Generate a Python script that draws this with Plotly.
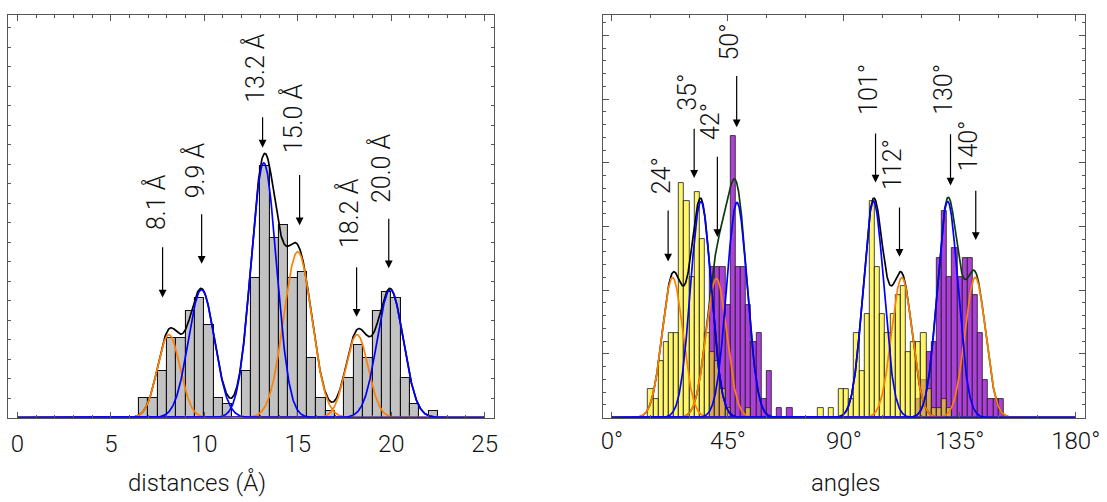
import numpy as np
import plotly.graph_objects as go

# ---------------- left panel : distances ----------------
dist_bin_start = 6.5
dist_bin_width = 0.5
dist_counts = [3, 3, 7, 12, 12, 16, 18, 14, 3, 2, 0, 7, 21, 38, 27, 29,
               21, 22, 9, 3, 1, 0, 6, 11, 9, 16, 19, 18, 6, 2, 0, 1]

dist_peak_center = [8.1, 9.85, 13.18, 15.0, 18.17, 19.95]
dist_peak_height = [12.5, 19.3, 38.4, 25.0, 12.5, 19.3]
dist_peak_sigma = [0.6, 0.7, 0.68, 0.75, 0.6, 0.7]
dist_peak_kind = ["orange", "blue", "blue", "orange", "orange", "blue"]

dist_labels = ["8.1 Å", "9.9 Å", "13.2 Å", "15.0 Å", "18.2 Å", "20.0 Å"]
dist_arrow_x = [7.77, 9.86, 13.12, 15.1, 18.15, 19.87]
dist_arrow_tip = [18.1, 23.2, 40.7, 29.0, 15.2, 22.5]
dist_arrow_tail = [25.9, 30.9, 45.5, 36.8, 22.9, 30.2]
dist_label_base = [27.9, 32.7, 47.1, 39.5, 25.2, 32.0]

dist_ticks = [0, 5, 10, 15, 20, 25]

# ---------------- right panel : angles ----------------
ang_bin_width = 2
ang_bin_start = [14, 16, 18, 20, 22, 24, 26, 28, 30, 32, 34, 36, 38, 40, 42, 44,
                 46, 48, 50, 52, 54, 56, 58, 60, 62, 64, 66, 68, 70, 72, 74, 76,
                 78, 80, 82, 84, 86, 88, 90, 92, 94, 96, 98, 100, 102, 104, 106,
                 108, 110, 112, 114, 116, 118, 120, 122, 124, 126, 128, 130, 132,
                 134, 136, 138, 140, 142, 144, 146, 148, 150]
ang_yellow = [3, 2, 6, 8, 9, 9, 25, 23, 15, 24, 19, 9, 7, 6, 3, 1,
              0, 0, 0, 1, 0, 0, 0, 0, 0, 0, 0, 0, 0, 0, 0, 0,
              0, 1, 0, 1, 0, 3, 3, 2, 9, 5, 11, 23, 16, 11, 9,
              11, 13, 14, 7, 8, 8, 9, 3, 1, 1, 2, 1, 0,
              0, 0, 0, 0, 0, 0, 0, 0, 0]
ang_purple = [0, 0, 0, 0, 0, 0, 0, 0, 0, 0, 0, 0, 16, 16, 16, 12,
              30, 16, 16, 12, 8, 9, 2, 5, 0, 1, 0, 1, 0, 0, 0, 0,
              0, 0, 0, 0, 0, 0, 0, 0, 0, 0, 0, 0, 0, 0, 0,
              0, 0, 0, 0, 0, 2, 4, 7, 8, 17, 22, 15, 18,
              15, 17, 17, 13, 9, 4, 2, 2, 2]

ang_peak_center = [23.5, 34.5, 40.5, 48.5, 101.5, 112.5, 130.3, 141.0]
ang_peak_height = [14.9, 23.0, 14.8, 22.9, 23.0, 14.9, 23.0, 14.9]
ang_peak_sigma = [4.0, 4.0, 4.0, 4.0, 4.0, 4.0, 4.0, 4.0]
ang_peak_kind = ["orange", "blue", "orange", "blue", "blue", "orange", "blue", "orange"]
ang_peak_group = ["yellow", "yellow", "purple", "purple", "yellow", "yellow", "purple", "purple"]

ang_labels = ["24°", "35°", "42°", "50°", "101°", "112°", "130°", "140°"]
ang_arrow_x = [21.8, 31.9, 40.9, 48.4, 102.3, 111.6, 131.4, 141.2]
ang_arrow_tip = [16.6, 25.5, 19.2, 30.9, 25.0, 17.1, 24.7, 18.9]
ang_arrow_tail = [22.2, 30.9, 27.9, 36.5, 30.4, 22.5, 30.3, 24.3]
ang_label_base = [23.5, 32.4, 29.3, 37.8, 32.0, 24.0, 32.0, 26.0]

ang_ticks = [0, 45, 90, 135, 180]
ang_tick_text = ["0°", "45°", "90°", "135°", "180°"]

axis_titles = ["distances (Å)", "angles"]

# ---------------- styling ----------------
FONT = "Roboto"
COL = {"orange": "#FF8000", "blue": "#0000FF"}
SUMCOL = {"yellow": "#000000", "purple": "#0E3A0E"}
W, H = 1107, 502
L_DOM = [8 / W, 494 / W]
R_DOM = [602.7 / W, 1085 / W]
Y_DOM = [(H - 417.5) / H, (H - 15) / H]
L_YMAX = 402.5 / 6.63
R_YMAX = 402.7 / 9.4
TITLE_X = [197 / W, 845 / W]
TITLE_Y = (H - 499) / H


def gauss(x, c, a, s):
    return a * np.exp(-(x - c) ** 2 / (2 * s ** 2))


fig = go.Figure()

# left histogram
dx = [dist_bin_start + dist_bin_width * (i + 0.5) for i in range(len(dist_counts))]
lx = [x for x, c in zip(dx, dist_counts) if c > 0]
ly = [c for c in dist_counts if c > 0]
fig.add_trace(go.Bar(x=lx, y=ly, width=dist_bin_width, xaxis="x", yaxis="y",
                     marker=dict(color="#C2C2C2", line=dict(color="#111111", width=1.1)),
                     showlegend=False))

xs = np.linspace(0, 25, 1201)
total = sum(gauss(xs, c, a, s) for c, a, s in zip(dist_peak_center, dist_peak_height, dist_peak_sigma))
fig.add_trace(go.Scatter(x=xs, y=total, mode="lines", line=dict(color="black", width=1.7),
                         xaxis="x", yaxis="y", showlegend=False))
for kind in ["orange", "blue"]:
    for c, a, s, k in zip(dist_peak_center, dist_peak_height, dist_peak_sigma, dist_peak_kind):
        if k == kind:
            fig.add_trace(go.Scatter(x=xs, y=gauss(xs, c, a, s), mode="lines",
                                     line=dict(color=COL[k], width=1.7),
                                     xaxis="x", yaxis="y", showlegend=False))

# right histograms
ac = [b + ang_bin_width / 2 for b in ang_bin_start]
px_ = [x for x, c in zip(ac, ang_purple) if c > 0]
py_ = [c for c in ang_purple if c > 0]
yx_ = [x for x, c in zip(ac, ang_yellow) if c > 0]
yy_ = [c for c in ang_yellow if c > 0]
fig.add_trace(go.Bar(x=px_, y=py_, width=ang_bin_width, xaxis="x2", yaxis="y2",
                     marker=dict(color="rgb(172,64,216)", line=dict(color="#1a1a1a", width=0.8)),
                     showlegend=False))
fig.add_trace(go.Bar(x=yx_, y=yy_, width=ang_bin_width, xaxis="x2", yaxis="y2",
                     marker=dict(color="rgba(255,240,0,0.58)", line=dict(color="#1a1a1a", width=0.8)),
                     showlegend=False))

xa = np.linspace(0, 180, 1801)
for grp in ["yellow", "purple"]:
    tot = sum(gauss(xa, c, a, s) for c, a, s, g in
              zip(ang_peak_center, ang_peak_height, ang_peak_sigma, ang_peak_group) if g == grp)
    fig.add_trace(go.Scatter(x=xa, y=tot, mode="lines", line=dict(color=SUMCOL[grp], width=1.7),
                             xaxis="x2", yaxis="y2", showlegend=False))
for kind in ["orange", "blue"]:
    for c, a, s, k in zip(ang_peak_center, ang_peak_height, ang_peak_sigma, ang_peak_kind):
        if k == kind:
            fig.add_trace(go.Scatter(x=xa, y=gauss(xa, c, a, s), mode="lines",
                                     line=dict(color=COL[k], width=1.7),
                                     xaxis="x2", yaxis="y2", showlegend=False))

# annotations
ann = []
for lab, x, tip, tail, base in zip(dist_labels, dist_arrow_x, dist_arrow_tip, dist_arrow_tail, dist_label_base):
    ann.append(dict(x=x, y=tip, ax=x, ay=tail, xref="x", yref="y", axref="x", ayref="y",
                    showarrow=True, arrowhead=2, arrowsize=1.3, arrowwidth=1.2, arrowcolor="black",
                    text=""))
    ann.append(dict(x=x, y=base, xref="x", yref="y", text=lab, showarrow=False, textangle=-90,
                    xanchor="center", yanchor="bottom", xshift=-7,
                    font=dict(family=FONT, size=25, color="#111111", weight=300)))
for lab, x, tip, tail, base in zip(ang_labels, ang_arrow_x, ang_arrow_tip, ang_arrow_tail, ang_label_base):
    ann.append(dict(x=x, y=tip, ax=x, ay=tail, xref="x2", yref="y2", axref="x2", ayref="y2",
                    showarrow=True, arrowhead=2, arrowsize=1.3, arrowwidth=1.2, arrowcolor="black",
                    text=""))
    ann.append(dict(x=x, y=base, xref="x2", yref="y2", text=lab, showarrow=False, textangle=-90,
                    xanchor="center", yanchor="bottom", xshift=-7,
                    font=dict(family=FONT, size=25, color="#111111", weight=300)))
for t, tx in zip(axis_titles, TITLE_X):
    ann.append(dict(x=tx, y=TITLE_Y, xref="paper", yref="paper", text=t, showarrow=False,
                    xanchor="center", yanchor="bottom",
                    font=dict(family=FONT, size=24, color="#111111", weight=300)))

axis_common = dict(showline=True, linecolor="#555555", linewidth=1, mirror="allticks",
                   ticks="inside", tickcolor="#555555", showgrid=False, zeroline=False,
                   automargin=False, fixedrange=True)
tickfont = dict(family=FONT, size=24, color="#111111", weight=300)

fig.update_layout(
    width=W, height=H, margin=dict(l=0, r=0, t=0, b=0),
    paper_bgcolor="white", plot_bgcolor="white", barmode="overlay", bargap=0,
    annotations=ann,
    xaxis=dict(domain=L_DOM, range=[-0.5, 25.5], tickvals=dist_ticks, ticklen=6,
               tickfont=tickfont, ticklabelstandoff=5,
               minor=dict(dtick=1, tick0=0, ticklen=3, ticks="inside", tickcolor="#555555"),
               anchor="y", **axis_common),
    yaxis=dict(domain=Y_DOM, range=[0, L_YMAX], tickvals=[k * 2.94 for k in range(1, 21)],
               showticklabels=False, ticklen=3, anchor="x", **axis_common),
    xaxis2=dict(domain=R_DOM, range=[-3.6, 183.6], tickvals=ang_ticks, ticktext=ang_tick_text,
                ticklen=6, tickfont=tickfont, ticklabelstandoff=2,
                minor=dict(dtick=15, tick0=0, ticklen=3, ticks="inside", tickcolor="#555555"),
                anchor="y2", **axis_common),
    yaxis2=dict(domain=Y_DOM, range=[0, R_YMAX], tickvals=[k * 6.777 for k in range(1, 7)],
                showticklabels=False, ticklen=6, anchor="x2",
                minor=dict(dtick=1.3554, tick0=0, ticklen=3, ticks="inside", tickcolor="#555555"),
                **axis_common),
)

fig.write_html("out.html")
